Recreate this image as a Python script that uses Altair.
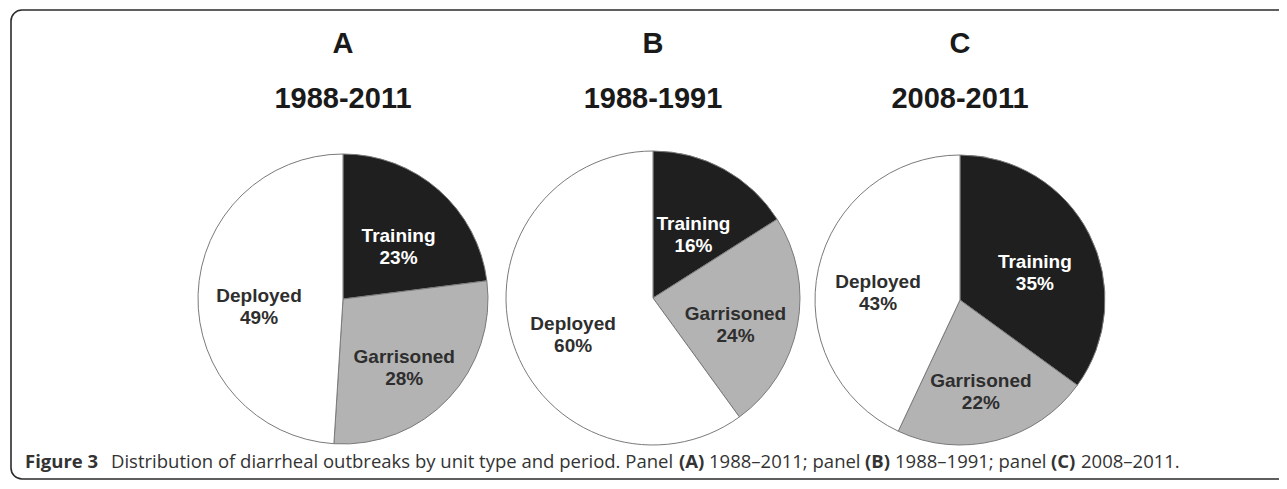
import altair as alt
import pandas as pd

# ---------------- data ----------------
panels = ["A", "B", "C"]
periods = ["1988-2011", "1988-1991", "2008-2011"]
categories = ["Training", "Garrisoned", "Deployed"]
share_A = [23, 28, 49]
share_B = [16, 24, 60]
share_C = [35, 22, 43]
shares = {"A": share_A, "B": share_B, "C": share_C}

caption_parts = [
    "Figure 3",
    "Distribution of diarrheal outbreaks by unit type and period. Panel",
    "(A)",
    "1988–2011; panel",
    "(B)",
    "1988–1991; panel",
    "(C)",
    "2008–2011.",
]
caption_bold = [True, False, True, False, True, False, True, False]

# ---------------- layout / style ----------------
W, H = 1271, 473
pie_layout = {"A": (335, 291, 145), "B": (645, 290, 147), "C": (952, 292, 145)}
caption_x = [17, 103, 671, 701, 857, 887, 1043, 1073]
caption_y = 460
slice_colors = ["#1f1f1f", "#b3b3b3", "#ffffff"]
label_font = "Liberation Sans"

layers = []

# border
layers.append(
    alt.Chart(pd.DataFrame({"k": [0]}))
    .mark_rect(fillOpacity=0, stroke="#2b2b2b", strokeWidth=1.6, cornerRadius=11)
    .encode(x=alt.value(3), x2=alt.value(1300), y=alt.value(2), y2=alt.value(471))
)

for p, period in zip(panels, periods):
    cx, cy, r = pie_layout[p]
    df = pd.DataFrame({
        "category": categories,
        "value": shares[p],
        "ord": list(range(len(categories))),
    })
    df["label"] = [f"{c}\n{v}%" for c, v in zip(categories, shares[p])]

    arc = alt.Chart(df).mark_arc(radius=r, stroke="#7a7a7a", strokeWidth=1).encode(
        theta=alt.Theta("value:Q", stack=True),
        order=alt.Order("ord:Q"),
        color=alt.Color("category:N",
                        scale=alt.Scale(domain=categories, range=slice_colors),
                        legend=None),
        x=alt.value(cx),
        y=alt.value(cy),
    )
    txt = alt.Chart(df).mark_text(
        radius=84, font=label_font, fontWeight="bold", fontSize=19,
        lineBreak="\n", lineHeight=22, align="center", baseline="middle",
    ).encode(
        theta=alt.Theta("value:Q", stack=True),
        order=alt.Order("ord:Q"),
        text="label:N",
        color=alt.condition(alt.datum.category == "Training",
                            alt.value("#ffffff"), alt.value("#2e2e2e")),
        x=alt.value(cx),
        y=alt.value(cy),
    )
    tdf = pd.DataFrame({"letter": [p], "period": [period]})
    t1 = alt.Chart(tdf).mark_text(
        font=label_font, fontWeight="bold", fontSize=29, color="#1a1a1a",
        align="center", baseline="alphabetic",
    ).encode(text="letter:N", x=alt.value(cx), y=alt.value(45))
    t2 = alt.Chart(tdf).mark_text(
        font=label_font, fontWeight="bold", fontSize=29, color="#1a1a1a",
        align="center", baseline="alphabetic",
    ).encode(text="period:N", x=alt.value(cx), y=alt.value(100))
    layers += [arc, txt, t1, t2]

for part, bold, xpos in zip(caption_parts, caption_bold, caption_x):
    layers.append(
        alt.Chart(pd.DataFrame({"t": [part]})).mark_text(
            font="Open Sans", fontSize=18.5, fontWeight="bold" if bold else "normal",
            color="#333333", align="left", baseline="alphabetic",
        ).encode(text="t:N", x=alt.value(xpos), y=alt.value(caption_y))
    )

chart = alt.layer(*layers).properties(
    width=W, height=H,
    autosize=alt.AutoSizeParams(type="none"),
    padding=0,
).configure_view(stroke=None)

chart.save("out.html", embed_options={"renderer": "svg", "actions": False})
